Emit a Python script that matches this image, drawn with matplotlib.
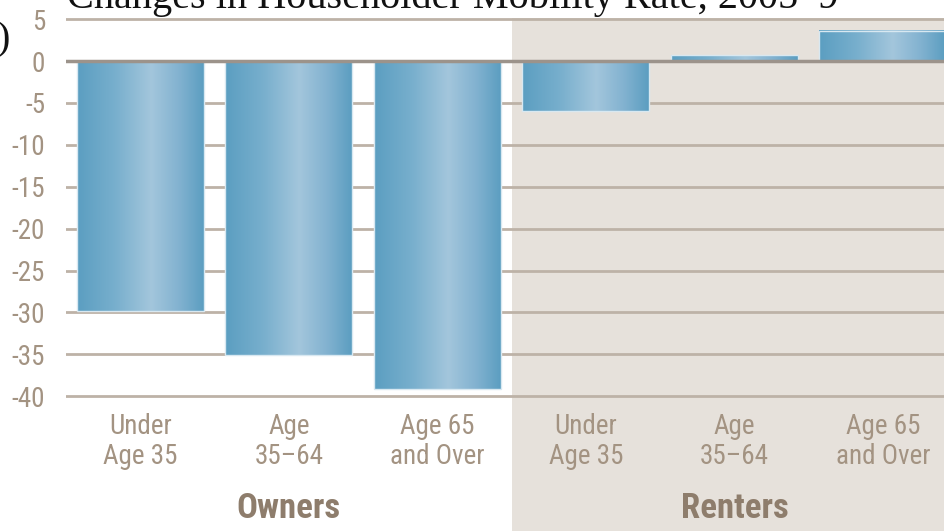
import matplotlib
matplotlib.use("Agg")
import matplotlib.pyplot as plt
import numpy as np
from matplotlib.colors import LinearSegmentedColormap
from matplotlib import font_manager

categories = ["Under\nAge 35", "Age\n35\u201364", "Age 65\nand Over",
              "Under\nAge 35", "Age\n35\u201364", "Age 65\nand Over"]
values = [-29.8, -35.1, -39.2, -6.0, 0.7, 3.6]
groups = ["Owners", "Renters"]
yticks = [5, 0, -5, -10, -15, -20, -25, -30, -35, -40]
title = "Changes in Householder Mobility Rate, 2005\u20139"

W, H, DPI = 944, 531, 100
fig = plt.figure(figsize=(W / DPI, H / DPI), dpi=DPI)

avail = {f.name for f in font_manager.fontManager.ttflist}
cond = None
for name in ["Liberation Sans Narrow", "DejaVu Sans Condensed", "Roboto Condensed", "Open Sans Condensed"]:
    if name in avail:
        cond = name
        break
if cond is None:
    cond = "DejaVu Sans"

px_per_unit = 8.38
y0_px = 61
top_px = 18
ytop = (y0_px - top_px) / px_per_unit
ybot = (y0_px - H) / px_per_unit
left_px = 66
ax = fig.add_axes([left_px / W, 0, 1 - left_px / W, (H - top_px) / H])
xright = (W - 140.5) / 148.5
ax.set_xlim(-0.5, xright)
ax.set_ylim(ybot, ytop)
for s in ax.spines.values():
    s.set_visible(False)

tick_color = "#A39382"
ax.axvspan(2.5, xright + 1, color="#E6E1DB", zorder=0, lw=0)
ax.set_yticks(yticks)
ax.set_yticklabels([str(t) for t in yticks], fontsize=19.5, color=tick_color,
                   fontfamily=cond)
ax.tick_params(axis="y", length=0, pad=15)
ax.set_xticks([])
for t in yticks:
    if t == 0:
        continue
    ax.axhline(t, color="#BDB2A7", lw=2, zorder=1)

x = np.arange(len(values))
width = 0.855
bars = ax.bar(x, values, width=width, color="none", edgecolor="none", zorder=2)
cmap = LinearSegmentedColormap.from_list(
    "g", [(0, "#5B9EC1"), (0.3, "#78AFCD"), (0.58, "#A3C6DC"), (0.8, "#82B2D0"), (1, "#5A9DC0")])
grad = np.linspace(0, 1, 256).reshape(1, -1)
for b in bars:
    bx, by, bw, bh = b.get_x(), b.get_y(), b.get_width(), b.get_height()
    ax.imshow(grad, cmap=cmap, aspect="auto", extent=(bx, bx + bw, by, by + bh),
              zorder=2, interpolation="bilinear")
    ax.add_patch(plt.Rectangle((bx, by), bw, bh, fill=False, edgecolor="#D8E8F1",
                               lw=1, zorder=3))

ax.axhline(0, color="#9C938B", lw=2.5, zorder=4)

for xi, lab in zip(x, categories):
    ax.text(xi, (y0_px - 413) / px_per_unit, lab, ha="center", va="top",
            fontsize=19.5, color=tick_color, fontfamily=cond, linespacing=1.12)
for gi, g in enumerate(groups):
    ax.text(1 + 3 * gi, (y0_px - 509) / px_per_unit, g, ha="center", va="center",
            fontsize=25, fontweight="bold", color="#8E7D6C", fontfamily=cond)

fig.text(838 / W, 1 - 8 / H, title, ha="right", va="baseline",
         fontsize=29, fontfamily="Liberation Serif", color="#111111")
fig.text(11 / W, 1 - 40 / H, "(Percent)", ha="right", va="center",
         fontsize=29, fontfamily="Liberation Serif", color="#111111")

fig.savefig("out.png", dpi=DPI)
